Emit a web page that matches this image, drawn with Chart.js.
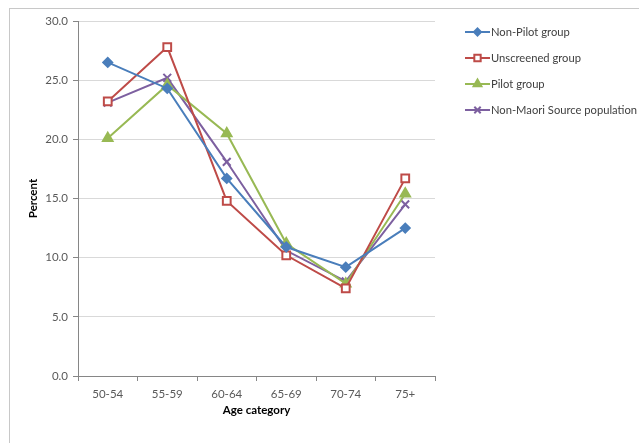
<!DOCTYPE html>
<html>
<head>
<meta charset="utf-8">
<script src="https://cdn.jsdelivr.net/npm/chart.js@4"></script>
<style>
  html, body { margin: 0; padding: 0; background: #fff; overflow: hidden; }
  #wrap { position: relative; width: 639px; height: 443px; }
  #frame { position: absolute; left: 9px; top: 8px; width: 700px; height: 500px; border: 1px solid #c8c8c8; box-sizing: border-box; }
  canvas { position: absolute; left: 0; top: 0; }
</style>
</head>
<body>
<div id="wrap">
  <div id="frame"></div>
  <canvas id="c" width="639" height="443"></canvas>
</div>
<script>
const categories = ['50-54', '55-59', '60-64', '65-69', '70-74', '75+'];
const nonPilot = [26.5, 24.3, 16.7, 10.9, 9.2, 12.5];
const unscreened = [23.2, 27.8, 14.8, 10.2, 7.4, 16.7];
const pilot = [20.1, 24.6, 20.5, 11.2, 7.8, 15.4];
const nonMaori = [23.1, 25.2, 18.1, 10.6, 8.0, 14.5];
const yTicks = [0, 5, 10, 15, 20, 25, 30];

const FONT = 'Lato, "Open Sans", sans-serif';

function series(label, data, color, style, radius, fill) {
  return {
    label, data,
    borderColor: color,
    backgroundColor: fill || color,
    pointBorderColor: color,
    pointBackgroundColor: fill || color,
    pointStyle: style,
    pointRadius: radius,
    pointBorderWidth: 2,
    borderWidth: 2,
    tension: 0
  };
}

const datasets = [
  series('Non-Pilot group', nonPilot, '#4a7ebb', 'rectRot', 4.5),
  series('Unscreened group', unscreened, '#be4b48', 'rect', 5.5, '#ffffff'),
  series('Pilot group', pilot, '#98b954', 'triangle', 5.5),
  series('Non-Maori Source population', nonMaori, '#7d60a0', 'crossRot', 5.5)
];

// Legend drawn at the right, beside the plot
const sideLegend = {
  id: 'sideLegend',
  afterDraw(chart) {
    const ctx = chart.ctx;
    const x0 = 465, x1 = 490, tx = 491;
    const rowY = [32, 58, 84, 110];
    ctx.save();
    chart.data.datasets.forEach((ds, i) => {
      const y = rowY[i];
      ctx.strokeStyle = ds.borderColor;
      ctx.lineWidth = 2;
      ctx.beginPath();
      ctx.moveTo(x0, y);
      ctx.lineTo(x1, y);
      ctx.stroke();
      ctx.fillStyle = ds.pointBackgroundColor;
      ctx.strokeStyle = ds.pointBorderColor;
      ctx.lineWidth = 2;
      Chart.helpers.drawPoint(ctx, { pointStyle: ds.pointStyle, radius: ds.pointRadius - 1, rotation: 0, borderWidth: 2 }, (x0 + x1) / 2, y);
      ctx.fillStyle = '#404040';
      ctx.font = '11.2px ' + FONT;
      ctx.textBaseline = 'middle';
      ctx.textAlign = 'left';
      ctx.fillText(ds.label, tx, y);
    });
    ctx.restore();
  }
};

new Chart(document.getElementById('c'), {
  type: 'line',
  data: { labels: categories, datasets },
  options: {
    responsive: false,
    animation: false,
    layout: { padding: { left: 20, top: 21, right: 204, bottom: 20 } },
    plugins: { legend: { display: false }, tooltip: { enabled: false } },
    scales: {
      x: {
        offset: true,
        grid: { display: true, drawOnChartArea: false, drawTicks: true, tickLength: 5, color: '#868686', offset: true },
        border: { color: '#868686', width: 1 },
        ticks: { color: '#595959', font: { family: FONT, size: 11.5 }, padding: 6, maxRotation: 0 },
        title: { display: true, text: 'Age category', color: '#000', font: { family: FONT, size: 11.5, weight: 'bold' }, padding: { top: 4, bottom: 6 } },
        afterFit(s) { s.height = 47; }
      },
      y: {
        min: 0, max: 30,
        afterBuildTicks(s) { s.ticks = yTicks.map(v => ({ value: v })); },
        grid: { color: '#d9d9d9', lineWidth: 1, drawTicks: true, tickLength: 5, tickColor: '#868686' },
        border: { color: '#868686', width: 1 },
        ticks: { color: '#595959', font: { family: FONT, size: 11.5 }, padding: 5, callback: v => v.toFixed(1) },
        title: { display: true, text: 'Percent', color: '#000', font: { family: FONT, size: 11.5, weight: 'bold' }, padding: { top: 6, bottom: 4 } },
        afterFit(s) { s.width = 58; }
      }
    }
  },
  plugins: [sideLegend]
});
</script>
</body>
</html>
